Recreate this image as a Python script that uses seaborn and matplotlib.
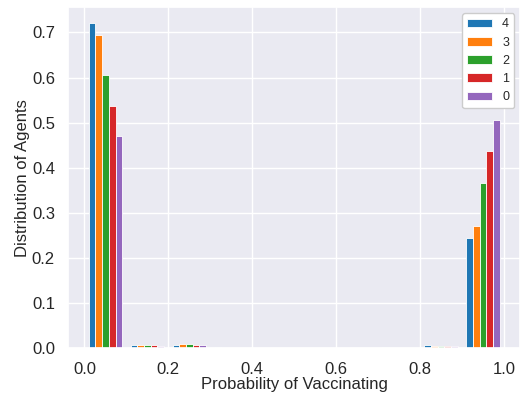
import numpy as np
import matplotlib
matplotlib.use("Agg")
import matplotlib.pyplot as plt
import seaborn as sns

labels = ["4", "3", "2", "1", "0"]
bin_edges = [0.0, 0.1, 0.2, 0.3, 0.4, 0.5, 0.6, 0.7, 0.8, 0.9, 1.0]
s4 = [0.720, 0.008, 0.008, 0.004, 0.002, 0.002, 0.002, 0.004, 0.008, 0.245]
s3 = [0.695, 0.008, 0.009, 0.002, 0.002, 0.002, 0.002, 0.002, 0.006, 0.272]
s2 = [0.605, 0.007, 0.011, 0.002, 0.002, 0.002, 0.002, 0.002, 0.006, 0.366]
s1 = [0.538, 0.007, 0.008, 0.002, 0.002, 0.002, 0.002, 0.002, 0.005, 0.438]
s0 = [0.470, 0.006, 0.008, 0.002, 0.002, 0.002, 0.002, 0.002, 0.005, 0.505]
series = [s4, s3, s2, s1, s0]

sns.set_theme(style="darkgrid")
plt.rcParams["font.family"] = ["Liberation Sans", "DejaVu Sans"]
fig, ax = plt.subplots(figsize=(5.24, 3.96), dpi=100)
centers = [(bin_edges[i] + bin_edges[i + 1]) / 2 for i in range(len(bin_edges) - 1)]
colors = sns.color_palette("tab10", 5)
ax.hist([centers] * len(series), bins=bin_edges, weights=series,
        label=labels, color=colors, edgecolor="white", linewidth=0.6)
ax.set_xlabel("Probability of Vaccinating", fontsize=12, labelpad=0.5)
ax.set_ylabel("Distribution of Agents", fontsize=12, labelpad=1.5)
ax.tick_params(labelsize=12)
ax.legend(loc="upper right", fontsize=9, facecolor="white", framealpha=1)
fig.subplots_adjust(left=0.13, right=0.993, top=0.982, bottom=0.12)
fig.savefig("out.png", dpi=100)
